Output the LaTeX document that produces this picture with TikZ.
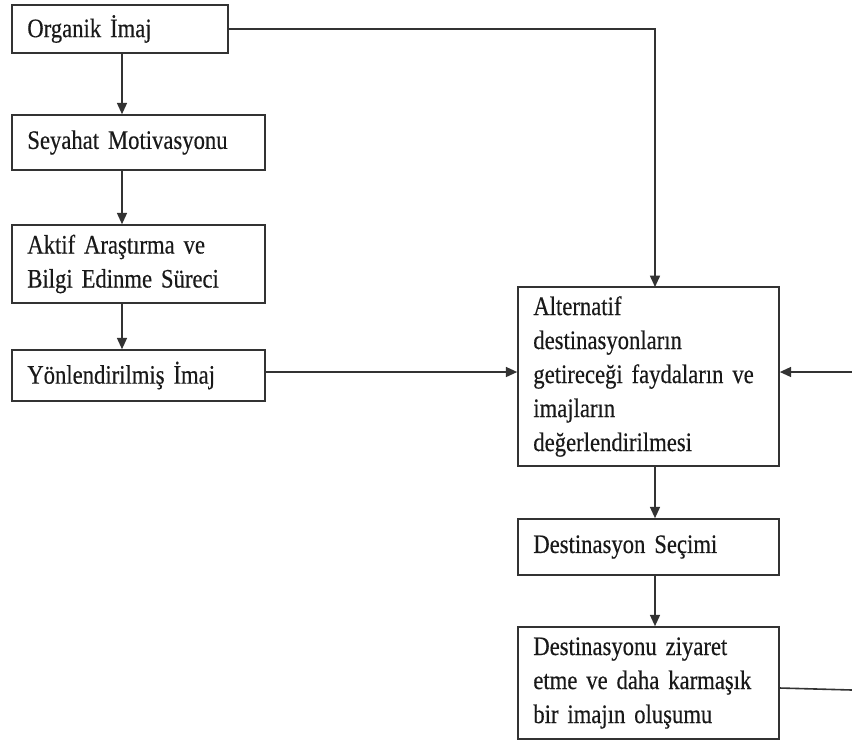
\documentclass[tikz,border=0pt]{standalone}
\usepackage{fontspec}
\setmainfont{Liberation Serif}[FakeStretch=0.85, WordSpace=0.8, FakeBold=0.4]
\usetikzlibrary{arrows.meta}

\tikzset{
    box/.style={draw=black!80, line width=1.2pt, align=left, inner xsep=11.5pt,
        font=\fontsize{20}{25.5}\selectfont, text=black!90},
    conn/.style={draw=black!80, line width=1.2pt},
    arr/.style={conn, -{Triangle[length=8.5pt,width=7.5pt]}}
}

\begin{document}
\begin{tikzpicture}[x=0.75pt, y=-0.75pt]
    \useasboundingbox (0,0) rectangle (852,744);

    % left column
    \node[box, minimum width=162pt, minimum height=36pt, text width=139pt] (organik) at (120,29) {Organik İmaj};
    \node[box, minimum width=189.75pt, minimum height=41.25pt, text width=166.75pt] (seyahat) at (138.5,142.5) {Seyahat Motivasyonu};
    \node[box, minimum width=189.75pt, minimum height=58.5pt, text width=166.75pt] (aktif) at (138.5,264) {Aktif Araştırma ve\\Bilgi Edinme Süreci};
    \node[box, minimum width=189.75pt, minimum height=38.25pt, text width=166.75pt] (yon) at (138.5,375.5) {Yönlendirilmiş İmaj};

    % right column
    \node[box, minimum width=195.75pt, minimum height=134.25pt, text width=172.75pt] (alternatif) at (648.5,376.5) {Alternatif\\destinasyonların\\getireceği faydaların ve\\imajların\\değerlendirilmesi};
    \node[box, minimum width=195.75pt, minimum height=42pt, text width=172.75pt] (secim) at (648.5,547) {Destinasyon Seçimi};
    \node[box, minimum width=195.75pt, minimum height=84pt, text width=172.75pt] (ziyaret) at (648.5,683) {Destinasyonu ziyaret\\etme ve daha karmaşık\\bir imajın oluşumu};

    \coordinate (spine) at (655,287);
    \coordinate (geri) at (852,372);
    \coordinate (cikis) at (852,690);

    \draw[arr] (organik.south -| 122,0) -- (seyahat.north -| 122,0);
    \draw[arr] (seyahat.south -| 122,0) -- (aktif.north -| 122,0);
    \draw[arr] (aktif.south -| 122,0) -- (yon.north -| 122,0);

    \draw[arr] (organik.east) -| (spine);
    \draw[arr] (yon.east |- geri) -- (alternatif.west |- geri);
    \draw[arr] (geri) -- (alternatif.east |- geri);

    \draw[arr] (alternatif.south -| spine) -- (secim.north -| spine);
    \draw[arr] (secim.south -| spine) -- (ziyaret.north -| spine);
    \draw[conn] (ziyaret.east |- 0,688) -- (cikis);
\end{tikzpicture}
\end{document}
